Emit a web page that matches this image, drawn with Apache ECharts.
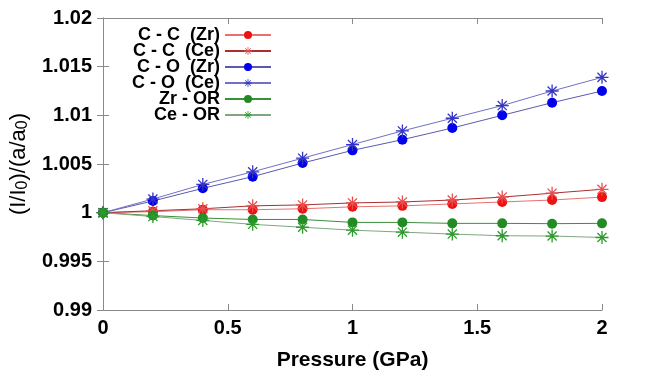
<!DOCTYPE html>
<html>
<head>
<meta charset="utf-8">
<script src="https://cdn.jsdelivr.net/npm/echarts@6/dist/echarts.min.js"></script>
<style>
  html, body { margin: 0; padding: 0; background: #fff; }
  #chart { width: 650px; height: 373px; }
</style>
</head>
<body>
<div id="chart"></div>
<script>
const pressure = [0, 0.2, 0.4, 0.6, 0.8, 1.0, 1.2, 1.4, 1.6, 1.8, 2.0]

const ccZr = [1, 1.0001, 1.0003, 1.0003, 1.0004, 1.0006, 1.0007, 1.0009, 1.0011, 1.0013, 1.0016]
const ccCe = [1, 1.0002, 1.0004, 1.0007, 1.0008, 1.0010, 1.0011, 1.0013, 1.0016, 1.0020, 1.0024]
const coZr = [1, 1.0012, 1.0025, 1.0037, 1.0051, 1.0064, 1.0075, 1.0087, 1.0100, 1.0113, 1.0125]
const coCe = [1, 1.0014, 1.0029, 1.0042, 1.0056, 1.0070, 1.0084, 1.0097, 1.0110, 1.0125, 1.0139]
const zrOR = [1, 0.9997, 0.99945, 0.9993, 0.9993, 0.9990, 0.9990, 0.9989, 0.9989, 0.99887, 0.9989]
const ceOR = [1, 0.9996, 0.9992, 0.9988, 0.9985, 0.9982, 0.9980, 0.9978, 0.99763, 0.9976, 0.99745]

// gnuplot style asterisk (+ and x overlaid)
const star =
  "path://M-1,-10L1,-10L1,10L-1,10Z" +
  "M-10,-1L10,-1L10,1L-10,1Z" +
  "M-6.3,-7.7L7.7,6.3L6.3,7.7L-7.7,-6.3Z" +
  "M-7.7,6.3L6.3,-7.7L7.7,-6.3L-6.3,7.7Z"

const frame = "#8a8a8a"
const labelFont = {
  color: "#000",
  fontFamily: "Liberation Sans",
  fontWeight: "bold",
  fontSize: 20,
}

function makeSeries(name, values, symbol, markColor, lineColor) {
  const isStar = symbol === star
  return {
    name,
    type: "line",
    data: pressure.map((p, i) => [p, values[i]]),
    symbol,
    symbolSize: isStar ? 13 : 10,
    showAllSymbol: true,
    itemStyle: { color: markColor },
    lineStyle: { width: 1, color: lineColor },
    emphasis: { disabled: true },
    animation: false,
  }
}

const chart = echarts.init(document.getElementById("chart"), undefined, {
  renderer: "canvas",
})

chart.setOption({
  backgroundColor: "#fff",
  animation: false,
  grid: {
    left: 103,
    right: 48,
    top: 18,
    bottom: 63,
    containLabel: false,
    outerBoundsMode: "none",
  },
  legend: {
    orient: "vertical",
    left: 116,
    top: 21,
    align: "right",
    itemWidth: 46,
    itemHeight: 10,
    itemGap: -2,
    selectedMode: false,
    textStyle: {
      color: "#000",
      fontFamily: "Liberation Sans",
      fontWeight: "bold",
      fontSize: 18,
      width: 99,
      align: "right",
      lineHeight: 16,
    },
  },
  xAxis: [
    {
      type: "value",
      min: 0,
      max: 2,
      interval: 0.5,
      name: "Pressure (GPa)",
      nameLocation: "middle",
      nameGap: 40,
      nameTextStyle: { ...labelFont, fontSize: 21 },
      axisLine: { lineStyle: { color: frame } },
      axisTick: { inside: true, length: 6, lineStyle: { color: frame } },
      axisLabel: { ...labelFont, margin: 8 },
      splitLine: { show: false },
    },
    {
      type: "value",
      position: "top",
      min: 0,
      max: 2,
      interval: 0.5,
      axisLine: { lineStyle: { color: frame } },
      axisTick: { inside: true, length: 6, lineStyle: { color: frame } },
      axisLabel: { show: false },
      splitLine: { show: false },
    },
  ],
  yAxis: [
    {
      type: "value",
      min: 0.99,
      max: 1.02,
      interval: 0.005,
      name: "{t|(I/I}{s|0}{t|)/(a/a}{s|0}{t|)}",
      nameLocation: "middle",
      nameRotate: 90,
      nameGap: 70,
      nameTextStyle: {
        rich: {
          t: { fontFamily: "Liberation Sans", fontSize: 22, color: "#000" },
          s: {
            fontFamily: "Liberation Sans",
            fontSize: 16,
            color: "#000",
            padding: [9, 0, 0, 0],
          },
        },
      },
      axisLine: { show: true, lineStyle: { color: frame } },
      axisTick: { show: true, inside: true, length: 6, lineStyle: { color: frame } },
      axisLabel: { ...labelFont, margin: 11 },
      splitLine: { show: false },
    },
    {
      type: "value",
      position: "right",
      min: 0.99,
      max: 1.02,
      interval: 0.005,
      axisLine: { show: true, lineStyle: { color: frame } },
      axisTick: { show: true, inside: true, length: 6, lineStyle: { color: frame } },
      axisLabel: { show: false },
      splitLine: { show: false },
    },
  ],
  series: [
    makeSeries("C - C  (Zr)", ccZr, "circle", "#ee1111", "#e87070"),
    makeSeries("C - C  (Ce)", ccCe, star, "#e85050", "#a83030"),
    makeSeries("C - O  (Zr)", coZr, "circle", "#0000ee", "#5a5ab0"),
    makeSeries("C - O  (Ce)", coCe, star, "#3535c5", "#7070c8"),
    makeSeries("Zr - OR", zrOR, "circle", "#238b23", "#3a8f3a"),
    makeSeries("Ce - OR", ceOR, star, "#2e9a2e", "#80a880"),
  ],
})
</script>
</body>
</html>
